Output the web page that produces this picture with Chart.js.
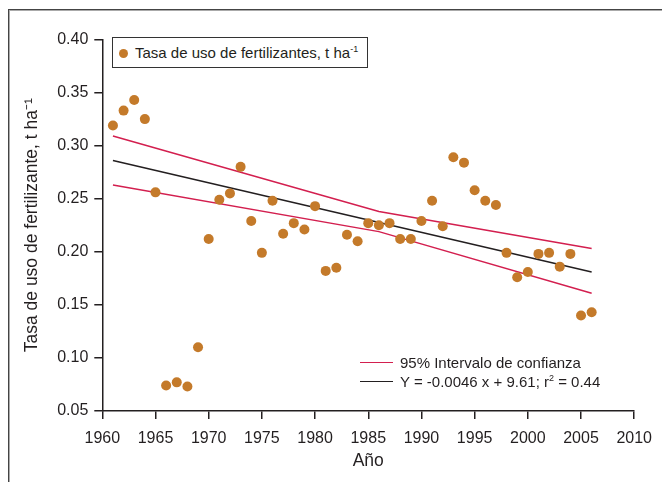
<!DOCTYPE html>
<html>
<head>
<meta charset="utf-8">
<script src="https://cdn.jsdelivr.net/npm/chart.js@4/dist/chart.umd.min.js"></script>
<style>
  html, body { margin: 0; padding: 0; background: #fff; }
  #wrap { position: relative; width: 662px; height: 482px; overflow: hidden; font-family: "Liberation Sans", Arial, sans-serif; color: #231f20; }
  #frame { position: absolute; left: 8px; top: 9px; width: 700px; height: 500px; border-top: 1px solid #444; border-left: 1px solid #444; box-shadow: inset 1px 1px 0 #aaa; }
  canvas { position: absolute; left: 0; top: 0; }
  #legTop { position: absolute; left: 112px; top: 37px; width: 256px; height: 31px; border: 1px solid #333; background: #fff; box-sizing: border-box; }
  #legTop .dot { position: absolute; left: 6px; top: 11px; width: 9px; height: 9px; border-radius: 50%; background: #C47A2A; }
  #legTop .txt { position: absolute; left: 22px; top: 6px; font-size: 15px; line-height: 17px; white-space: nowrap; }
  sup { font-size: 9px; vertical-align: 6px; line-height: 0; }
  .legRow { position: absolute; left: 360px; font-size: 15px; line-height: 17px; white-space: nowrap; }
  .legRow .ln { position: absolute; left: 0; top: 8px; width: 33px; height: 0; border-top: 1.5px solid; }
  .legRow .txt { position: absolute; left: 40px; top: 0; }
</style>
</head>
<body>
<div id="wrap">
  <div id="frame"></div>
  <canvas id="c" width="662" height="482"></canvas>
  <div id="legTop"><div class="dot"></div><div class="txt">Tasa de uso de fertilizantes, t ha<sup>-1</sup></div></div>
  <div class="legRow" style="top:354px"><div class="ln" style="border-color:#D31F4F"></div><div class="txt">95% Intervalo de confianza</div></div>
  <div class="legRow" style="top:373px"><div class="ln" style="border-color:#231f20"></div><div class="txt">Y = -0.0046 x + 9.61; r<sup>2</sup> = 0.44</div></div>
</div>
<script>
// ---- data ----
const years = [1961,1962,1963,1964,1965,1966,1967,1968,1969,1970,
               1971,1972,1973,1974,1975,1976,1977,1978,1979,1980,
               1981,1982,1983,1984,1985,1986,1987,1988,1989,1990,
               1991,1992,1993,1994,1995,1996,1997,1998,1999,2000,
               2001,2002,2003,2004,2005,2006];
const rates = [0.319,0.333,0.343,0.325,0.256,0.074,0.077,0.073,0.110,0.212,
               0.249,0.255,0.280,0.229,0.199,0.248,0.217,0.227,0.221,0.243,
               0.182,0.185,0.216,0.210,0.227,0.225,0.227,0.212,0.212,0.229,
               0.248,0.224,0.289,0.284,0.258,0.248,0.244,0.199,0.176,0.181,
               0.198,0.199,0.186,0.198,0.140,0.143];
const ciYears = [1961, 1986, 2006];
const ciUpper = [0.309, 0.238, 0.203];
const ciLower = [0.263, 0.219, 0.161];
const fitYears = [1961, 2006];
const fitValues = [0.286, 0.181];
const xTicks = [1960,1965,1970,1975,1980,1985,1990,1995,2000,2005,2010];
const yTicks = [0.05,0.10,0.15,0.20,0.25,0.30,0.35,0.40];

const pts = (xs, ys) => xs.map((x, i) => ({x: x, y: ys[i]}));
const ink = '#231f20';
const red = '#D31F4F';

new Chart(document.getElementById('c'), {
  type: 'scatter',
  data: {
    datasets: [
      { label: 'Tasa de uso de fertilizantes', data: pts(years, rates),
        backgroundColor: '#C47A2A', borderWidth: 0, pointRadius: 5, pointHoverRadius: 5 },
      { label: '95% superior', data: pts(ciYears, ciUpper), showLine: true, borderColor: red,
        borderWidth: 1.5, pointRadius: 0, fill: false, tension: 0 },
      { label: '95% inferior', data: pts(ciYears, ciLower), showLine: true, borderColor: red,
        borderWidth: 1.5, pointRadius: 0, fill: false, tension: 0 },
      { label: 'Regresión', data: pts(fitYears, fitValues), showLine: true, borderColor: ink,
        borderWidth: 1.5, pointRadius: 0, fill: false, tension: 0 }
    ]
  },
  options: {
    responsive: false,
    animation: false,
    devicePixelRatio: 1,
    layout: { padding: { left: 0, top: 39.5, right: 25.7, bottom: 0 } },
    plugins: { legend: { display: false }, tooltip: { enabled: false } },
    scales: {
      x: {
        type: 'linear', min: 1960, max: 2010,
        afterBuildTicks: s => { s.ticks = xTicks.map(v => ({value: v})); },
        afterFit: s => { s.height = 71; },
        ticks: { callback: v => String(v), color: ink, font: { family: 'Liberation Sans', size: 16 }, padding: 10, maxRotation: 0 },
        grid: { drawOnChartArea: false, drawTicks: true, tickLength: 8, color: ink, lineWidth: 1.5 },
        border: { display: true, color: ink, width: 1.5 },
        title: { display: true, text: 'Año', color: ink, font: { family: 'Liberation Sans', size: 17.5 }, padding: { top: 0, bottom: 10 } }
      },
      y: {
        type: 'linear', min: 0.05, max: 0.40,
        afterBuildTicks: s => { s.ticks = yTicks.map(v => ({value: v})); },
        afterFit: s => { s.width = 102.3; },
        ticks: { callback: v => Number(v).toFixed(2), color: ink, font: { family: 'Liberation Sans', size: 16 }, padding: 6 },
        grid: { drawOnChartArea: false, drawTicks: true, tickLength: 8, color: ink, lineWidth: 1.5 },
        border: { display: true, color: ink, width: 1.5 },
        title: { display: true, text: 'Tasa de uso de fertilizante, t ha⁻¹', color: ink, font: { family: 'Liberation Sans', size: 17.5 }, padding: { top: 22, bottom: 0 } }
      }
    }
  }
});
</script>
</body>
</html>
